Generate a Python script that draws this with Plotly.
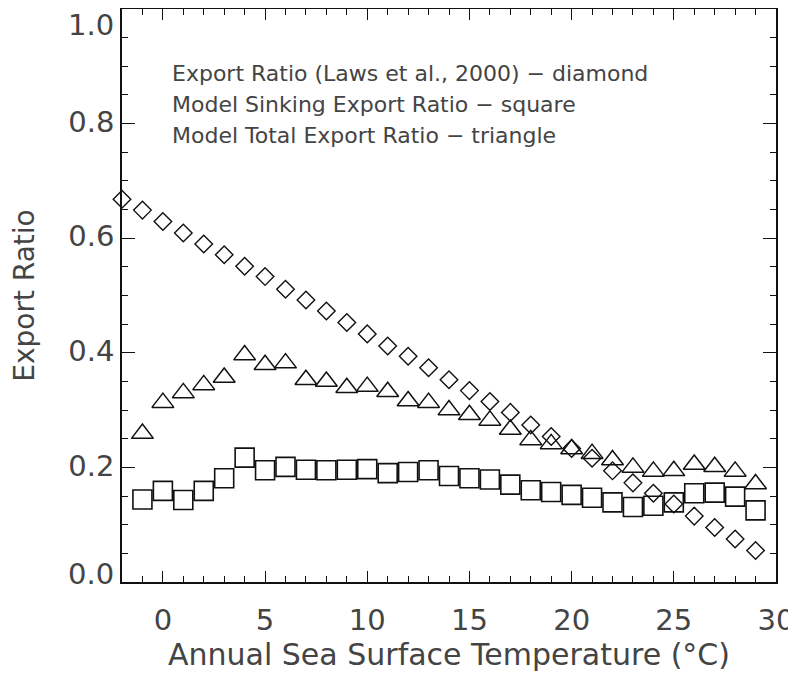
import plotly.graph_objects as go

# Annual sea surface temperature (°C)
temp_laws = list(range(-2, 30))
temp_model = list(range(-1, 30))

# Export Ratio (Laws et al., 2000) - diamonds, T = -2 .. 29
laws_ratio = [0.668, 0.649, 0.629, 0.609, 0.590, 0.571, 0.551, 0.533, 0.511, 0.492,
              0.473, 0.453, 0.433, 0.412, 0.394, 0.374, 0.353, 0.334, 0.315, 0.296,
              0.274, 0.254, 0.233, 0.216, 0.194, 0.173, 0.155, 0.136, 0.115, 0.095,
              0.075, 0.055]

# Model Sinking Export Ratio - squares, T = -1 .. 29
sinking_ratio = [0.144, 0.159, 0.143, 0.159, 0.181, 0.217, 0.195, 0.201, 0.196, 0.195,
                 0.196, 0.197, 0.190, 0.192, 0.195, 0.185, 0.181, 0.179, 0.170, 0.160,
                 0.157, 0.152, 0.147, 0.139, 0.131, 0.133, 0.139, 0.155, 0.156, 0.149,
                 0.125]

# Model Total Export Ratio - triangles, T = -1 .. 29
total_ratio = [0.259, 0.313, 0.330, 0.344, 0.357, 0.396, 0.379, 0.382, 0.353, 0.350,
               0.339, 0.341, 0.332, 0.316, 0.313, 0.300, 0.292, 0.282, 0.266, 0.248,
               0.241, 0.232, 0.224, 0.213, 0.200, 0.193, 0.194, 0.205, 0.201, 0.193,
               0.171]

x_ticks = [0, 5, 10, 15, 20, 25, 30]
y_ticks = [0.0, 0.2, 0.4, 0.6, 0.8, 1.0]
# end labels are drawn inside the axis span (as the original plot does)
y_ticktext = ["", "0.2", "0.4", "0.6", "0.8", ""]
y_end_labels = [(0.0, "0.0", 8), (1.0, "1.0", -16)]
legend_lines = [
    "Export Ratio (Laws et al., 2000) \u2212 diamond",
    "Model Sinking Export Ratio \u2212 square",
    "Model Total Export Ratio \u2212 triangle",
]

FONT = "DejaVu Sans"
TXT = "#444444"
INK = "#111111"

fig = go.Figure()
fig.add_trace(go.Scatter(
    x=temp_laws, y=laws_ratio, mode="markers", name="Laws",
    marker=dict(symbol="diamond-open", size=13.5, color=INK, line=dict(width=1.4, color=INK)),
    cliponaxis=False,
))
fig.add_trace(go.Scatter(
    x=temp_model, y=total_ratio, mode="markers", name="Total",
    marker=dict(symbol="triangle-up-open", size=19, color=INK, line=dict(width=1.5, color=INK)),
))
fig.add_trace(go.Scatter(
    x=temp_model, y=sinking_ratio, mode="markers", name="Sinking",
    marker=dict(symbol="square-open", size=19, color=INK, line=dict(width=1.6, color=INK)),
))

for i, txt in enumerate(legend_lines):
    fig.add_annotation(
        xref="paper", yref="paper", x=0.0734, y=(582 - (73.5 + 30.75 * i)) / 573,
        xanchor="left", yanchor="middle", showarrow=False, text=txt,
        font=dict(family=FONT, size=22, color=TXT),
    )

for val, lab, shift in y_end_labels:
    fig.add_annotation(
        xref="paper", yref="y", x=0, y=val, xanchor="right", yanchor="middle",
        xshift=-6, yshift=shift, showarrow=False, text=lab,
        font=dict(family=FONT, size=29, color=TXT),
    )

axis_common = dict(
    showline=True, linecolor=INK, linewidth=1.5, mirror="allticks",
    ticks="inside", tickcolor=INK, tickwidth=1.3,
    showgrid=False, zeroline=False, automargin=False,
    ticklabeloverflow="allow",
    tickfont=dict(family=FONT, size=29, color=TXT),
)

# the page body adds an 8 px offset, so the figure is 8 px smaller than the window
fig.update_layout(
    width=788, height=667,
    margin=dict(l=114, r=20, t=1, b=93),
    paper_bgcolor="white", plot_bgcolor="white",
    showlegend=False,
    font=dict(family=FONT, color=TXT),
    xaxis=dict(
        range=[-2, 30], tickvals=x_ticks, ticklen=11, ticklabelstandoff=11,
        minor=dict(dtick=1, tick0=0, ticks="inside", ticklen=6, tickcolor=INK, tickwidth=1.3, showgrid=False),
        title=dict(text="Annual Sea Surface Temperature (\u00b0C)", standoff=1,
                   font=dict(family=FONT, size=30, color=TXT)),
        **axis_common,
    ),
    yaxis=dict(
        range=[0, 1], tickvals=y_ticks, ticktext=y_ticktext, ticklen=13,
        ticklabelstandoff=0, ticklabelshift=-2,
        minor=dict(dtick=0.05, tick0=0, ticks="inside", ticklen=6.5, tickcolor=INK, tickwidth=1.3, showgrid=False),
        title=dict(text="Export Ratio", standoff=37,
                   font=dict(family=FONT, size=28, color=TXT)),
        **axis_common,
    ),
)

fig.write_html("out.html")
